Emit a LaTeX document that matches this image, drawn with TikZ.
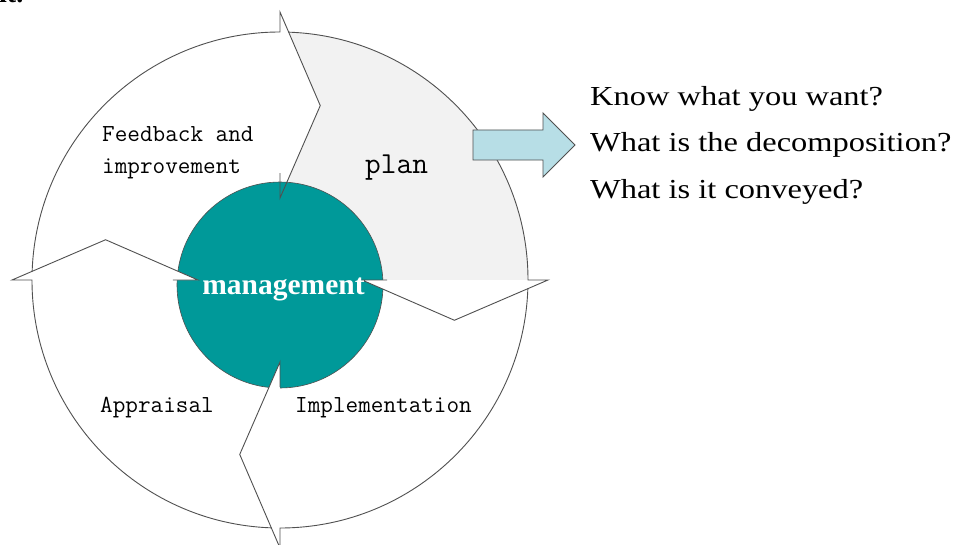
\documentclass[tikz,border=0pt]{standalone}
\usepackage{fontspec}
\setmainfont{Liberation Serif}
\newfontfamily\widefont[FakeStretch=1.18]{Liberation Serif}
\definecolor{tealc}{RGB}{0,153,153}
\definecolor{planc}{RGB}{242,242,242}
\definecolor{linec}{RGB}{80,80,80}
\definecolor{arrowc}{RGB}{183,222,230}
\tikzset{
  outl/.style={draw=linec, line width=0.9pt, line join=miter},
  monotext/.style={inner sep=0pt, anchor=base west, font=\ttfamily\fontsize{24.5}{28}\selectfont},
  righttext/.style={inner sep=0pt, anchor=base west, font=\widefont\fontsize{27.5}{30}\selectfont},
}
\begin{document}
\begin{tikzpicture}[x=1pt,y=1pt]
\useasboundingbox (-280,-264) rectangle (676,280);
\fill[white] (-280,-264) rectangle (676,280);
% gray "plan" sector
\begin{scope}
  \clip (0,0) circle (248);
  \fill[planc] (0,0) -- (90:82) -- (77:179) -- (90:268) -- (45:400) -- (0:300) -- cycle;
\end{scope}
% central circle
\node[circle, minimum size=206pt, inner sep=0pt, fill=tealc, draw=linec, line width=0.6pt] (core) at (0,-5) {};
% white arrow tips over the core
\foreach \a in {0,-90,180}{
  \pgfmathsetmacro{\c}{\a-13}
  \fill[white] (\a:268) -- (\c:179) -- (\a:82) -- cycle;
}
% outlines of the four arrow segments
\foreach \a in {90,0,-90,180}{
  \pgfmathsetmacro{\b}{\a+88}
  \pgfmathsetmacro{\c}{\a-13}
  \draw[outl] (\b:248) arc[start angle=\b, end angle=\a, radius=248] -- (\a:268) -- (\c:179) -- (\a:82) -- (\a:107);
}
% labels
\node[monotext] (fb1) at (-178,139) {Feedback and};
\node[monotext] (fb2) at (-178,107) {improvement};
\node[monotext, font=\ttfamily\fontsize{30.5}{34}\selectfont] (plan) at (85,107) {plan};
\node[monotext] (appr) at (-180,-132) {Appraisal};
\node[monotext] (impl) at (15,-132) {Implementation};
\node[inner sep=0pt, anchor=base, text=white, font=\bfseries\fontsize{29.5}{32}\selectfont] (mgmt) at (3.5,-14) {management};
% block arrow
\filldraw[fill=arrowc, draw=linec, line width=0.9pt, line join=miter]
  (193,150) -- (263,150) -- (263,167) -- (295,135) -- (263,103) -- (263,120) -- (193,120) -- cycle;
% questions
\node[righttext] (q1) at (310,175) {Know what you want?};
\node[righttext] (q2) at (310,128.5) {What is the decomposition?};
\node[righttext] (q3) at (310,82) {What is it conveyed?};
% cropped caption fragment
\node[inner sep=0pt, anchor=base west, font=\bfseries\fontsize{28}{30}\selectfont] (frag) at (-281,277) {it.};
\end{tikzpicture}
\end{document}
